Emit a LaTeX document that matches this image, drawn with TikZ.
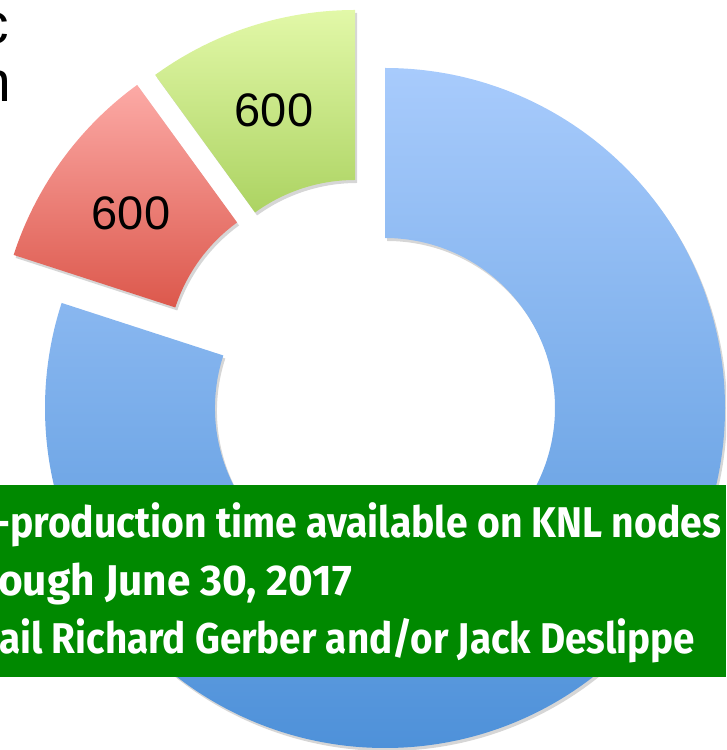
\documentclass[tikz,border=0pt]{standalone}
\usepackage{fontspec}
\setmainfont{Liberation Sans}
\newfontfamily\boxfont{Fira Sans}
\usetikzlibrary{calc}
\definecolor{bluetop}{RGB}{168,203,252}
\definecolor{bluebot}{RGB}{78,145,217}
\definecolor{redtop}{RGB}{252,170,166}
\definecolor{redbot}{RGB}{220,88,76}
\definecolor{greentop}{RGB}{226,248,168}
\definecolor{greenbot}{RGB}{172,211,98}
\definecolor{kgreen}{RGB}{0,137,0}
\tikzset{
  ringseg/.style n args={3}{insert path={
    ([shift={(#1)}]#2:340) arc[start angle=#2, end angle=#3, radius=340]
    -- ([shift={(#1)}]#3:170) arc[start angle=#3, end angle=#2, radius=170] -- cycle}},
  segshadow/.style={fill=black, opacity=0.16, xshift=2pt, yshift=-3pt},
  num/.style={inner sep=0pt, text=black, font=\fontsize{47}{47}\selectfont},
  corner/.style={inner sep=0pt, anchor=base east, text=black, font=\fontsize{57}{57}\selectfont},
  boxline/.style={inner sep=0pt, anchor=base west, text=white, font=\boxfont\bfseries\fontsize{43}{43}\selectfont}
}
\begin{document}
\begin{tikzpicture}[x=1pt,y=1pt]
\useasboundingbox (0,0) rectangle (726,750);
\clip (0,0) rectangle (726,750);
\coordinate (cb) at (385,342);
\coordinate (cg) at (355,400);
\coordinate (cr) at (337,390);
% shadows
\path[segshadow, ringseg={cb}{90}{-198}];
\path[segshadow, ringseg={cg}{90}{126}];
\path[segshadow, ringseg={cr}{126}{162}];
% segments
\shade[top color=bluetop, bottom color=bluebot, ringseg={cb}{90}{-198}];
\shade[top color=greentop, bottom color=greenbot, ringseg={cg}{90}{126}];
\shade[top color=redtop, bottom color=redbot, ringseg={cr}{126}{162}];
% labels
\node[num] (g600) at (274,640) {600};
\node[num] (r600) at (131,537) {600};
% clipped title letters
\node[corner] (tc) at (9,706) {c};
\node[corner] (tn) at (11,648) {n};
% green banner
\node[fill=kgreen, inner sep=0pt, minimum width=726pt, minimum height=192pt, anchor=south west] (box) at (0,73) {};
\node[boxline] (l1) at (-6,212) {\resizebox{727pt}{\height}{-production time available on KNL nodes}};
\node[boxline] (l2) at (-2,154) {\resizebox{354pt}{\height}{ough June 30, 2017}};
\node[boxline] (l3) at (-1,96) {\resizebox{696pt}{\height}{ail Richard Gerber and/or Jack Deslippe}};
\end{tikzpicture}
\end{document}
